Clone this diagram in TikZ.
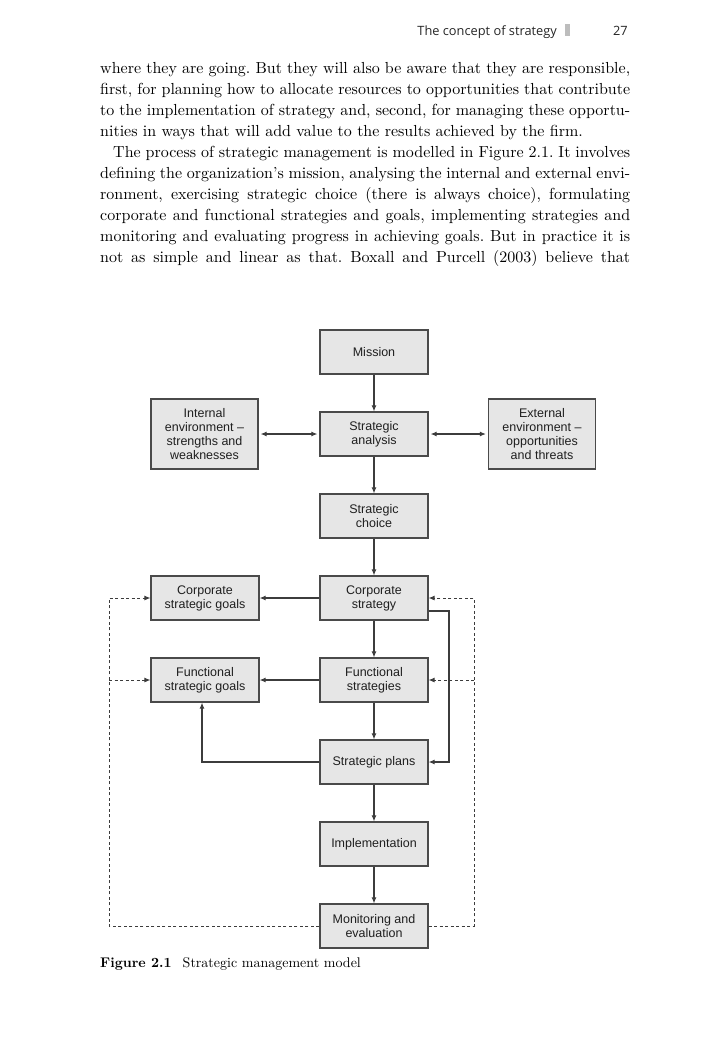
\documentclass[tikz,border=0pt]{standalone}
\usepackage{fontspec}
\setmainfont{lmroman10}[Extension=.otf, UprightFont=*-regular, BoldFont=*-bold, ItalicFont=*-italic, BoldItalicFont=*-bolditalic]
\newfontfamily\boxfont{Liberation Sans}
\newfontfamily\headfont{Open Sans}
\usetikzlibrary{arrows.meta}
\definecolor{boxfill}{HTML}{E6E6E6}
\definecolor{boxline}{HTML}{4A4A4A}
\definecolor{conline}{HTML}{3C3C3C}
\definecolor{bartone}{HTML}{BDBDBD}
\frenchspacing
\begin{document}
\begin{tikzpicture}[x=1pt,y=-1pt,
  blk/.style={draw=boxline, line width=1.2pt, fill=boxfill, minimum width=108pt,
    minimum height=44pt, inner sep=0pt, align=center,
    font=\boxfont\fontsize{12.5}{14}\selectfont, text=black!88},
  tallblk/.style={blk, minimum width=107pt, minimum height=70pt},
  con/.style={draw=conline, line width=1.1pt, -{Latex[length=6pt,width=5pt]}},
  dcon/.style={draw=conline, line width=1.1pt, {Latex[length=6pt,width=5pt]}-{Latex[length=6pt,width=5pt]}, shorten <=2pt, shorten >=2pt},
  dsh/.style={draw=conline, line width=0.9pt, dash pattern=on 3pt off 2.5pt},
  dsharr/.style={dsh, -{Latex[length=6pt,width=5pt]}},
  bodyline/.style={anchor=base west, inner sep=0pt, font=\fontsize{16}{20}\selectfont},
  headtext/.style={anchor=base east, inner sep=0pt, font=\headfont\fontsize{12.8}{15}\selectfont, text=black!85}
]
\useasboundingbox (0,0) rectangle (707,1061);
\fill[white] (0,0) rectangle (707,1061);

% running head
\node[headtext] (pg) at (628,35) {27};
\fill[bartone] (565,24) rectangle (570,36);
\node[headtext] (rh) at (557,35) {The concept of strategy};

% body text
\node[bodyline] (l1) at (100,73) {\makebox[530pt][s]{where they are going. But they will also be aware that they are responsible,}};
\node[bodyline] (l2) at (100,94.1) {\makebox[530pt][s]{first, for planning how to allocate resources to opportunities that contribute}};
\node[bodyline] (l3) at (100,115.2) {\makebox[530pt][s]{to the implementation of strategy and, second, for managing these opportu-}};
\node[bodyline] (l4) at (100,136.3) {nities in ways that will add value to the results achieved by the firm.};
\node[bodyline] (l5) at (113,157.4) {\makebox[517pt][s]{The process of strategic management is modelled in Figure 2.1. It involves}};
\node[bodyline] (l6) at (100,178.5) {\makebox[530pt][s]{defining the organization's mission, analysing the internal and external envi-}};
\node[bodyline] (l7) at (100,199.6) {\makebox[530pt][s]{ronment, exercising strategic choice (there is always choice), formulating}};
\node[bodyline] (l8) at (100,220.7) {\makebox[530pt][s]{corporate and functional strategies and goals, implementing strategies and}};
\node[bodyline] (l9) at (100,241.8) {\makebox[530pt][s]{monitoring and evaluating progress in achieving goals. But in practice it is}};
\node[bodyline] (l10) at (100,262.9) {\makebox[530pt][s]{not as simple and linear as that. Boxall and Purcell (2003) believe that}};

% diagram boxes
\node[blk] (mi) at (374,352) {Mission};
\node[blk] (sa) at (374,434) {Strategic\\analysis};
\node[tallblk] (ie) at (204.5,434) {Internal\\environment –\\strengths and\\weaknesses};
\node[tallblk] (ee) at (542,434) {External\\environment –\\opportunities\\and threats};
\node[blk] (sc) at (374,516) {Strategic\\choice};
\node[blk] (cg) at (205,598) {Corporate\\strategic goals};
\node[blk] (cs) at (374,598) {Corporate\\strategy};
\node[blk] (fg) at (205,680) {Functional\\strategic goals};
\node[blk] (fs) at (374,680) {Functional\\strategies};
\node[blk] (sp) at (374,762) {Strategic plans};
\node[blk] (im) at (374,844) {Implementation};
\node[blk] (mo) at (374,926) {Monitoring and\\evaluation};

% helper coordinates for the feedback loops
\coordinate (lx) at (109,0);
\coordinate (rx) at (474,0);
\coordinate (jx) at (449,0);

% main flow
\draw[con] (mi) -- (sa);
\draw[con] (sa) -- (sc);
\draw[con] (sc) -- (cs);
\draw[con] (cs) -- (fs);
\draw[con] (fs) -- (sp);
\draw[con] (sp) -- (im);
\draw[con] (im) -- (mo);
\draw[dcon] (ie) -- (sa);
\draw[dcon] (sa) -- (ee);
\draw[con] (cs) -- (cg);
\draw[con] (fs) -- (fg);
\draw[con] (sp.west) -| ([xshift=-3pt]fg.south);
\draw[con] ([yshift=-13pt]cs.east) -- ([yshift=-13pt]cs.east -| jx) |- (sp.east);

% dashed feedback
\draw[dsharr] (mo.west) -- (mo.west -| lx) -- (lx |- cg.west) -- (cg.west);
\draw[dsharr] (lx |- fg.west) -- (fg.west);
\draw[dsharr] (mo.east) -- (mo.east -| rx) -- (rx |- cs.east) -- (cs.east);
\draw[dsharr] (rx |- fs.east) -- (fs.east);

% caption
\node[anchor=base west, inner sep=0pt, font=\fontsize{14}{17}\selectfont] (cap) at (100,967) {\textbf{Figure 2.1}\hspace{11pt}Strategic management model};
\end{tikzpicture}
\end{document}
